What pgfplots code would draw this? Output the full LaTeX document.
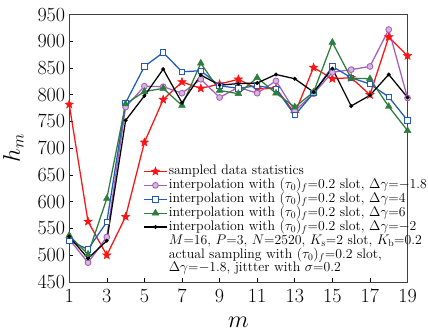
\documentclass[border=0pt]{standalone}
\usepackage{pgfplots}
\pgfplotsset{compat=1.18}
\definecolor{cred}{RGB}{250,20,20}
\definecolor{cpurple}{RGB}{165,95,185}
\definecolor{cblue}{RGB}{35,90,185}
\definecolor{cgreen}{RGB}{45,125,60}
\pgfdeclareplotmark{fstar}{%
  \pgfpathmoveto{\pgfpointpolar{90}{1.0*\pgfplotmarksize}}%
  \pgfpathlineto{\pgfpointpolar{126}{0.42*\pgfplotmarksize}}%
  \pgfpathlineto{\pgfpointpolar{162}{1.0*\pgfplotmarksize}}%
  \pgfpathlineto{\pgfpointpolar{198}{0.42*\pgfplotmarksize}}%
  \pgfpathlineto{\pgfpointpolar{234}{1.0*\pgfplotmarksize}}%
  \pgfpathlineto{\pgfpointpolar{270}{0.42*\pgfplotmarksize}}%
  \pgfpathlineto{\pgfpointpolar{306}{1.0*\pgfplotmarksize}}%
  \pgfpathlineto{\pgfpointpolar{342}{0.42*\pgfplotmarksize}}%
  \pgfpathlineto{\pgfpointpolar{18}{1.0*\pgfplotmarksize}}%
  \pgfpathlineto{\pgfpointpolar{54}{0.42*\pgfplotmarksize}}%
  \pgfpathclose
  \pgfusepathqfillstroke}
\begin{document}
\begin{tikzpicture}
\begin{axis}[
  scale only axis,
  width=348bp, height=275bp,
  xmin=1, xmax=19, ymin=450, ymax=950,
  xtick={1,3,...,19}, ytick={450,500,...,950},
  xtick pos=bottom, ytick pos=left,
  tick align=inside, major tick length=4bp,
  axis line style={draw=black!75, line width=0.8bp},
  tick style={black, line width=0.6bp},
  yticklabel style={font=\fontsize{20}{24}\selectfont, inner sep=0bp, xshift=-4bp},
  xticklabel style={font=\fontsize{21}{24}\selectfont, inner sep=0bp, yshift=-8bp},
  xlabel={$m$}, ylabel={$h_m$},
  xlabel style={font=\fontsize{23}{26}\selectfont, at={(axis description cs:0.5,-0.15)}, anchor=center},
  ylabel style={font=\fontsize{23}{26}\selectfont, at={(axis description cs:-0.165,0.5)}, anchor=center},
  legend style={at={(axis description cs:0.218,0.44)}, anchor=north west, draw=none, fill=none,
    font=\fontsize{14.2}{16}\selectfont, inner sep=0pt,
    nodes={text height=9.3bp, text depth=2.8bp, inner sep=1.1bp}},
  legend cell align=left,
  legend image code/.code={\draw[mark repeat=2,mark phase=2,#1] plot coordinates {(0bp,0bp) (12bp,0bp) (24bp,0bp)};},
  every axis plot/.append style={line width=1.3bp},
]
\addplot[cred, mark=fstar, mark size=4.5bp, mark options={fill=cred, line width=0.5bp}] coordinates {
(1,782) (2,563) (3,500) (4,572) (5,711) (6,791) (7,824) (8,812) (9,820) (10,829)
(11,811) (12,812) (13,765) (14,851) (15,830) (16,832) (17,800) (18,908) (19,873)};
\addlegendentry{sampled data statistics}
\addplot[cpurple, mark=*, mark size=3bp, mark options={fill=cpurple!45, draw=cpurple, line width=0.9bp}] coordinates {
(1,530) (2,486) (3,534) (4,777) (5,816) (6,815) (7,803) (8,829) (9,795) (10,814)
(11,803) (12,826) (13,770) (14,802) (15,842) (16,847) (17,853) (18,922) (19,794)};
\addlegendentry{interpolation with $(\tau_0)_f$=0.2 slot, $\Delta\gamma$=$-$1.8}
\addplot[cblue, mark=square*, mark size=2.8bp, mark options={fill=white, draw=cblue, line width=0.9bp}] coordinates {
(1,527) (2,511) (3,562) (4,785) (5,853) (6,879) (7,843) (8,845) (9,817) (10,812)
(11,817) (12,811) (13,762) (14,803) (15,853) (16,832) (17,820) (18,796) (19,752)};
\addlegendentry{interpolation with $(\tau_0)_f$=0.2 slot, $\Delta\gamma$=4}
\addplot[cgreen, mark=triangle*, mark size=4bp, mark options={fill=cgreen, line width=0.5bp}] coordinates {
(1,537) (2,502) (3,606) (4,783) (5,806) (6,812) (7,780) (8,859) (9,808) (10,802)
(11,832) (12,803) (13,777) (14,805) (15,898) (16,831) (17,830) (18,778) (19,733)};
\addlegendentry{interpolation with $(\tau_0)_f$=0.2 slot, $\Delta\gamma$=6}
\addplot[black, mark=*, mark size=1.3bp] coordinates {
(1,535) (2,494) (3,527) (4,752) (5,798) (6,848) (7,785) (8,837) (9,818) (10,821)
(11,822) (12,838) (13,830) (14,805) (15,849) (16,779) (17,799) (18,838) (19,795)};
\addlegendentry{interpolation with $(\tau_0)_f$=0.2 slot, $\Delta\gamma$=$-$2}
\addlegendimage{empty legend}
\addlegendentry{$M$=16, $P$=3, $N$=2520, $K_\mathrm{s}$=2 slot, $K_\mathrm{b}$=0.2}
\addlegendimage{empty legend}
\addlegendentry{actual sampling with $(\tau_0)_f$=0.2 slot,}
\addlegendimage{empty legend}
\addlegendentry{$\Delta\gamma$=$-$1.8, jittter with $\sigma$=0.2}
\end{axis}
\path (current axis.south west) ++(-66bp,-49bp) rectangle ++(428bp,339bp);
\end{tikzpicture}
\end{document}
